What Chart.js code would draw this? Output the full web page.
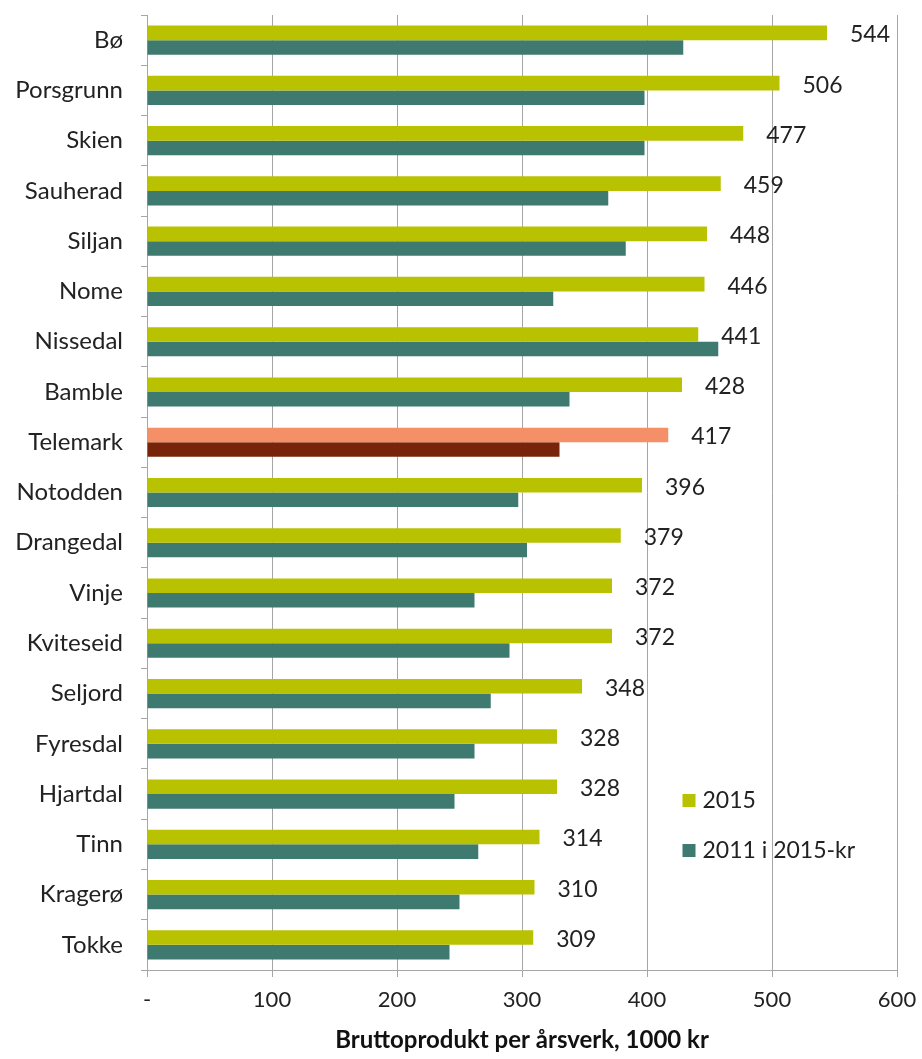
<!DOCTYPE html>
<html lang="no">
<head>
  <meta charset="UTF-8">
  <title>Bruttoprodukt per årsverk</title>
  <script src="https://cdn.jsdelivr.net/npm/chart.js"></script>
  <style>
    body { margin: 0; background: #fff; }
    #wrap { width: 922px; height: 1059px; position: relative; }
  </style>
</head>
<body>
  <div id="wrap"><canvas id="chart"></canvas></div>
  <script>
    const kommuner = ['Bø','Porsgrunn','Skien','Sauherad','Siljan','Nome','Nissedal','Bamble','Telemark',
      'Notodden','Drangedal','Vinje','Kviteseid','Seljord','Fyresdal','Hjartdal','Tinn','Kragerø','Tokke'];
    const verdi2015 = [544, 506, 477, 459, 448, 446, 441, 428, 417, 396, 379, 372, 372, 348, 328, 328, 314, 310, 309];
    const verdi2011 = [429, 398, 398, 369, 383, 325, 457, 338, 330, 297, 304, 262, 290, 275, 262, 246, 265, 250, 242];
    const xTicks = [0, 100, 200, 300, 400, 500, 600];
    const seriesNames = ['2015', '2011 i 2015-kr'];

    const green = '#b9c200', teal = '#3f7a70';
    const salmon = '#f48f68', brown = '#78240a';
    const font = 'Lato, "Open Sans", sans-serif';

    const colors2015 = kommuner.map(k => k === 'Telemark' ? salmon : green);
    const colors2011 = kommuner.map(k => k === 'Telemark' ? brown : teal);

    // verdietiketter til høyre for 2015-søylene
    const valueLabels = {
      id: 'valueLabels',
      afterDatasetsDraw(chart) {
        const ctx = chart.ctx;
        const meta = chart.getDatasetMeta(0);
        ctx.save();
        ctx.font = '23px ' + font;
        ctx.fillStyle = '#222';
        ctx.textBaseline = 'middle';
        meta.data.forEach((bar, i) => {
          ctx.fillText(String(verdi2015[i]), bar.x + 23, bar.y + 2);
        });
        ctx.restore();
      }
    };

    // forklaring inne i plottet
    const innerLegend = {
      id: 'innerLegend',
      afterDraw(chart) {
        const ctx = chart.ctx, a = chart.chartArea;
        const x = a.left + (a.right - a.left) * 0.714;
        const y0 = a.top + (a.bottom - a.top) * 0.822;
        ctx.save();
        ctx.font = '23px ' + font;
        ctx.textBaseline = 'middle';
        chart.data.datasets.forEach((ds, i) => {
          const y = y0 + i * 50;
          ctx.fillStyle = i === 0 ? green : teal;
          ctx.fillRect(x, y - 6, 13, 13);
          ctx.fillStyle = '#222';
          ctx.fillText(ds.label, x + 20, y + 1);
        });
        ctx.restore();
      }
    };

    new Chart(document.getElementById('chart'), {
      type: 'bar',
      data: {
        labels: kommuner,
        datasets: [
          { label: seriesNames[0], data: verdi2015, backgroundColor: colors2015, categoryPercentage: 0.58, barPercentage: 1.0 },
          { label: seriesNames[1], data: verdi2011, backgroundColor: colors2011, categoryPercentage: 0.58, barPercentage: 1.0 }
        ]
      },
      options: {
        indexAxis: 'y',
        responsive: true,
        maintainAspectRatio: false,
        animation: false,
        layout: { padding: { top: 15, right: 25, left: 0, bottom: 0 } },
        plugins: { legend: { display: false }, tooltip: { enabled: false } },
        scales: {
          x: {
            min: 0, max: 600,
            afterBuildTicks: s => { s.ticks = xTicks.map(v => ({ value: v })); },
            afterFit: s => { s.height = 89; s.paddingLeft = 0; s.paddingRight = 0; },
            grid: { color: '#a6a6a6', lineWidth: 1, tickLength: 7, drawTicks: true },
            border: { color: '#a6a6a6' },
            ticks: {
              padding: 10,
              color: '#222',
              font: { family: font, size: 22 },
              callback: v => v === 0 ? '-' : v
            },
            title: {
              display: true,
              text: 'Bruttoprodukt per årsverk, 1000 kr',
              color: '#111',
              font: { family: font, size: 24, weight: 'bold' },
              padding: { top: 2, bottom: 4 }
            }
          },
          y: {
            afterFit: s => { s.width = 147; s.paddingTop = 0; s.paddingBottom = 0; },
            grid: { drawOnChartArea: false, drawTicks: true, tickLength: 6, color: '#a6a6a6', offset: true },
            border: { color: '#a6a6a6' },
            ticks: { padding: 18, color: '#222', font: { family: font, size: 24 } }
          }
        }
      },
      plugins: [valueLabels, innerLegend]
    });
  </script>
</body>
</html>
